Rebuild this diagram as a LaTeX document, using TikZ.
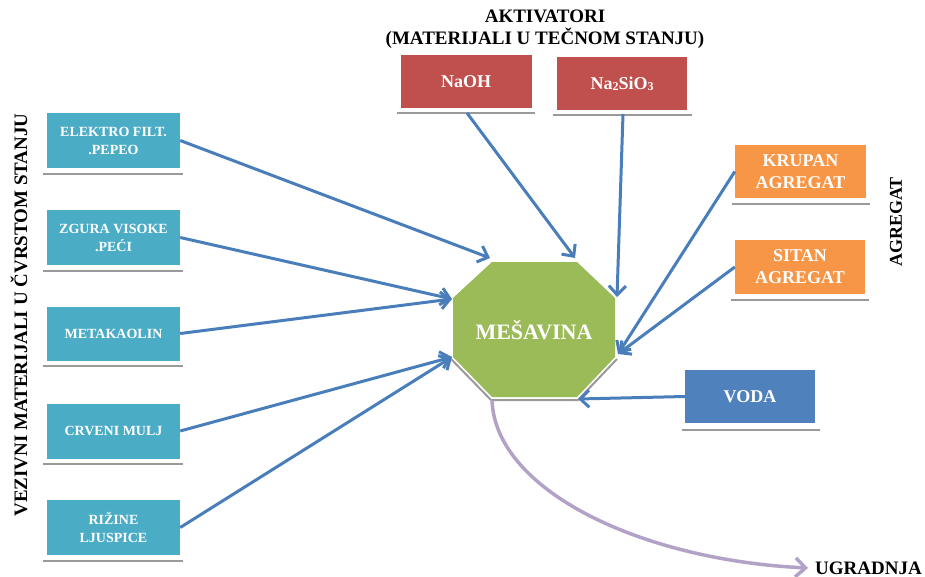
\documentclass[tikz,border=0pt]{standalone}
\usepackage{fontspec}
\setmainfont{Liberation Serif}
\usetikzlibrary{arrows.meta}
\definecolor{teal}{HTML}{4BACC6}
\definecolor{redbox}{HTML}{C0504D}
\definecolor{orangebox}{HTML}{F79646}
\definecolor{bluebox}{HTML}{4F81BD}
\definecolor{greenoct}{HTML}{9BBB59}
\definecolor{arrowblue}{HTML}{4A7EBB}
\definecolor{purpleline}{HTML}{B3A2C7}
\definecolor{shadowgray}{HTML}{9A9A9A}
\tikzset{
  boxbase/.style={rectangle, inner sep=0pt, text=white, align=center, font=\bfseries},
  tealbox/.style={boxbase, fill=teal, minimum width=133pt, minimum height=55pt, font=\fontsize{14}{18}\selectfont\bfseries},
  redbx/.style={boxbase, fill=redbox, minimum width=131pt, minimum height=53pt, font=\fontsize{18}{21}\selectfont\bfseries},
  orangebx/.style={boxbase, fill=orangebox, minimum width=131pt, minimum height=53pt, font=\fontsize{18}{22}\selectfont\bfseries},
  bluebx/.style={boxbase, fill=bluebox, minimum width=130pt, minimum height=53pt, font=\fontsize{18}{21}\selectfont\bfseries},
  shadowline/.style={draw=shadowgray, line width=2.5pt},
  feed/.style={draw=arrowblue, line width=3pt, -{Straight Barb[length=9pt,width=17pt,line width=3pt]}},
  outflow/.style={draw=purpleline, line width=3.5pt, -{Straight Barb[length=10pt,width=19pt,line width=3.5pt]}},
  caption/.style={font=\fontsize{19}{22}\selectfont\bfseries, text=black, inner sep=0pt, align=center}
}
\begin{document}
\begin{tikzpicture}[x=1pt,y=-1pt]
\useasboundingbox (0,0) rectangle (925,577);

% titles
\node[caption] (ttl) at (545,29) {AKTIVATORI\\(MATERIJALI U TEČNOM STANJU)};
\node[caption, rotate=90] (lefttl) at (19,315) {VEZIVNI MATERIJALI U ČVRSTOM STANJU};
\node[caption, font=\fontsize{18}{21}\selectfont\bfseries, rotate=90] (agtl) at (896,222) {AGREGAT};
\node[caption, anchor=west] (ugr) at (815,568) {UGRADNJA};

% shadows under boxes
\draw[shadowline] (43,174) -- (183,174);
\draw[shadowline] (43,271) -- (183,271);
\draw[shadowline] (43,366) -- (183,366);
\draw[shadowline] (43,464) -- (183,464);
\draw[shadowline] (43,561) -- (183,561);
\draw[shadowline] (397,113) -- (535,113);
\draw[shadowline] (553,115) -- (692,115);
\draw[shadowline] (732,204) -- (870,204);
\draw[shadowline] (731,300) -- (869,300);
\draw[shadowline] (682,430) -- (820,430);

% left boxes
\node[tealbox] (b1) at (113.5,140.5) {ELEKTRO FILT.\\.PEPEO};
\node[tealbox] (b2) at (113.5,237.5) {ZGURA VISOKE\\.PEĆI};
\node[tealbox, minimum height=54pt] (b3) at (113.5,333.5) {METAKAOLIN};
\node[tealbox] (b4) at (113.5,431) {CRVENI MULJ};
\node[tealbox] (b5) at (113.5,527.5) {RIŽINE\\LJUSPICE};

% activator boxes
\node[redbx] (naoh) at (466,81.5) {NaOH};
\node[redbx, minimum width=130pt] (nasio) at (622,83.5) {Na\raisebox{-0.15ex}{\fontsize{12}{12}\selectfont 2}SiO\raisebox{-0.15ex}{\fontsize{12}{12}\selectfont 3}};

% aggregate boxes
\node[orangebx] (krupan) at (800.5,171.5) {KRUPAN\\AGREGAT};
\node[orangebx, minimum width=130pt, minimum height=54pt] (sitan) at (800,267) {SITAN\\AGREGAT};

% water
\node[bluebx] (voda) at (750,396.5) {VODA};

% octagon
\draw[shadowgray, line width=2pt] (451,359) -- (491,400) -- (578,400) -- (617,359);
\fill[greenoct] (492,262) -- (577,262) -- (615,298) -- (615,357) -- (577,397) -- (492,397) -- (453,357) -- (453,298) -- cycle;
\node[font=\fontsize{22}{24}\selectfont\bfseries, text=white, inner sep=0pt] (mix) at (534,330) {MEŠAVINA};

% arrow targets on the octagon
\coordinate (tTL) at (490,258);
\coordinate (tL) at (452,299);
\coordinate (tLL) at (452,357);
\coordinate (tT) at (575,258);
\coordinate (tR) at (617,297);
\coordinate (tLR) at (618,354);
\coordinate (tB) at (578,399);
\coordinate (tOut) at (492,400);
\coordinate (tEnd) at (808,568);

% arrow sources below activator boxes
\coordinate (sNaoh) at (467,113);
\coordinate (sNasio) at (623,114);

% arrows
\draw[feed] (b1.east) -- (tTL);
\draw[feed] (b2.east) -- (tL);
\draw[feed] (b3.east) -- (tL);
\draw[feed] (b4.east) -- (tLL);
\draw[feed] (b5.east) -- (tLL);
\draw[feed] (sNaoh) -- (tT);
\draw[feed] (sNasio) -- (tR);
\draw[feed] (krupan.west) -- (tLR);
\draw[feed] (sitan.west) -- (tLR);
\draw[feed] (voda.west) -- (tB);

% output
\draw[outflow] (tOut) .. controls (495,490) and (640,560) .. (tEnd);
\end{tikzpicture}
\end{document}
